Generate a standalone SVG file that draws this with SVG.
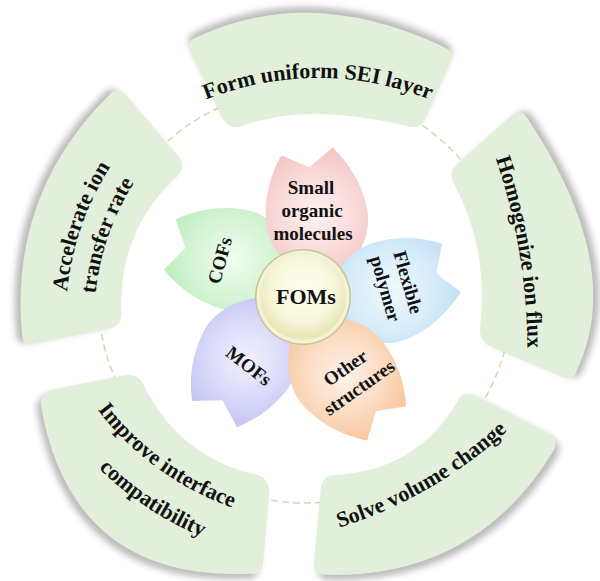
<svg xmlns="http://www.w3.org/2000/svg" xmlns:xlink="http://www.w3.org/1999/xlink" width="600" height="581" viewBox="0 0 600 581">
<defs>
<style>
.seg{fill:#e2efda}
.shd{fill:#858585;opacity:.55;filter:url(#blur)}
.t{font-family:"Liberation Serif","Times New Roman",serif;font-weight:bold;fill:#111}
.o{font-size:22px}
.p{font-size:19px;text-anchor:middle}
</style>
<filter id="blur" x="-20%" y="-20%" width="140%" height="140%"><feGaussianBlur stdDeviation="3"/></filter>
<path id="pTop" d="M190.4,52.7 Q185,42 196,37.6 Q310,-16.3 444,47 Q455,52 450,63 L425,119 Q420,130 408.6,126.4 Q305.5,101.6 240.4,126.4 Q229,130 223.6,119.3 Z"/>
<path id="pRight" d="M457,164 L511,116 Q520,108 527,117.6 Q626,266.2 577,370 Q574,382 563,377.3 L491,346.7 Q480,342 480,330 Q489.3,247.6 453.4,182.7 Q448,172 457,164 Z"/>
<path id="pLeft" d="M126,95 L178,156 Q186,165 179,174.6 Q117.1,230.5 121.6,314 Q121,326 109.2,328.4 L33.8,343.6 Q22,346 22,334 Q9.45,193.75 109.5,94.5 Q118,86 126,95 Z"/>
<path id="pImprove" d="M51.8,389.7 L125.2,375.3 Q137,373 143,383.4 Q178.6,457.8 259,475.4 Q270,480 269,492 L263,563 Q262,575 250,573.8 Q70.7,581.1 40.6,404 Q40,392 51.8,389.7 Z"/>
<path id="pSolve" d="M475.7,395.5 L547.3,432.5 Q558,438 554.4,449.4 Q476.3,578.9 325,574.8 Q313,575 314,563 L321,488 Q322,476 334,475 Q416.8,471.3 458.4,400 Q465,390 475.7,395.5 Z"/>
<path id="aForm" d="M18,378 A300,300 0 0 1 618,378"/>
<path id="aHom" d="M-171.6,-240.8 A600,600 0 0 1 26.4,942.8"/>
<path id="aAcc1" d="M254.2,582.8 A280,280 0 0 1 437.4,53.6"/>
<path id="aAcc2" d="M262.2,559.6 A255.5,255.5 0 0 1 429.4,76.8"/>
<path id="aImp1" d="M90.4,64.9 A292,292 0 0 0 562.8,408.1"/>
<path id="aImp2" d="M55.6,57.1 A325,325 0 0 0 597.6,415.9"/>
<path id="aSolve" d="M-184.7,326.3 A450,450 0 0 0 594.7,-123.7"/>
<path id="petal" d="M0,-10 C-30,-25 -52,-50 -51,-80 C-50,-105 -40,-128 -26,-146 L0,-130 L26,-146 C40,-128 50,-105 51,-80 C52,-50 30,-25 0,-10 Z"/>
<radialGradient id="gPink" cx="0" cy="-82" r="78" gradientUnits="userSpaceOnUse"><stop offset="0" stop-color="#fdf1f1"/><stop offset="0.5" stop-color="#f9dada"/><stop offset="1" stop-color="#f3bdbd"/></radialGradient>
<radialGradient id="gBlue" cx="0" cy="-82" r="78" gradientUnits="userSpaceOnUse"><stop offset="0" stop-color="#f0f8fe"/><stop offset="0.5" stop-color="#d8edfa"/><stop offset="1" stop-color="#b9dcf3"/></radialGradient>
<radialGradient id="gOrange" cx="0" cy="-82" r="78" gradientUnits="userSpaceOnUse"><stop offset="0" stop-color="#fdf2ea"/><stop offset="0.5" stop-color="#fbdcc2"/><stop offset="1" stop-color="#f6bf8f"/></radialGradient>
<radialGradient id="gLav" cx="0" cy="-82" r="78" gradientUnits="userSpaceOnUse"><stop offset="0" stop-color="#f1f1fe"/><stop offset="0.5" stop-color="#dadafa"/><stop offset="1" stop-color="#bcbcf3"/></radialGradient>
<radialGradient id="gGreen" cx="0" cy="-82" r="78" gradientUnits="userSpaceOnUse"><stop offset="0" stop-color="#f1fdf1"/><stop offset="0.5" stop-color="#d6f4d6"/><stop offset="1" stop-color="#b5ebb5"/></radialGradient>
<radialGradient id="gCore" cx="303" cy="290" r="46" gradientUnits="userSpaceOnUse"><stop offset="0" stop-color="#fffff4"/><stop offset="0.7" stop-color="#f7f6da"/><stop offset="1" stop-color="#e9e7b8"/></radialGradient>
</defs>
<rect width="600" height="581" fill="#ffffff"/>
<g id="connectors">
<circle cx="305" cy="296" r="207" fill="none" stroke="#c6e0b4" stroke-width="1.6" stroke-dasharray="7 4"/>
</g>
<g id="seg-form">
<use href="#pTop" class="shd" transform="translate(0,-6)"/>
<use href="#pTop" class="seg"/>
<text class="t o"><textPath href="#aForm" startOffset="50%" text-anchor="middle">Form uniform SEI layer</textPath></text>
</g>
<g id="seg-homogenize">
<use href="#pRight" class="shd" transform="translate(6,-1)"/>
<use href="#pRight" class="seg"/>
<text class="t o"><textPath href="#aHom" startOffset="50%" text-anchor="middle">Homogenize ion flux</textPath></text>
</g>
<g id="seg-solve">
<use href="#pSolve" class="shd" transform="translate(4,5)"/>
<use href="#pSolve" class="seg"/>
<text class="t o"><textPath href="#aSolve" startOffset="50%" text-anchor="middle">Solve volume change</textPath></text>
</g>
<g id="seg-improve">
<use href="#pImprove" class="shd" transform="translate(-4,5)"/>
<use href="#pImprove" class="seg"/>
<text class="t o"><textPath href="#aImp1" startOffset="50%" text-anchor="middle">Improve interface</textPath></text>
<text class="t o"><textPath href="#aImp2" startOffset="50%" text-anchor="middle">compatibility</textPath></text>
</g>
<g id="seg-accelerate">
<use href="#pLeft" class="shd" transform="translate(-6,-1)"/>
<use href="#pLeft" class="seg"/>
<text class="t o"><textPath href="#aAcc1" startOffset="50%" text-anchor="middle">Accelerate ion</textPath></text>
<text class="t o"><textPath href="#aAcc2" startOffset="50%" text-anchor="middle">transfer rate</textPath></text>
</g>
<g id="petal-cofs">
<g transform="translate(307,299) rotate(283.1) translate(22,0)"><use href="#petal" fill="url(#gGreen)"/></g>
<text class="t p" transform="translate(226,262) rotate(-75)">COFs</text>
</g>
<g id="petal-mofs">
<g transform="translate(307,299) rotate(210.2) translate(22,0)"><use href="#petal" fill="url(#gLav)"/></g>
<text class="t p" transform="translate(245,371) rotate(38)">MOFs</text>
</g>
<g id="petal-small">
<g transform="translate(307,299) rotate(-8.6) translate(22,0)"><use href="#petal" fill="url(#gPink)"/></g>
<text class="t p"><tspan x="311" y="194">Small</tspan><tspan x="312" y="217">organic</tspan><tspan x="313" y="240">molecules</tspan></text>
</g>
<g id="petal-flexible">
<g transform="translate(307,299) rotate(69.2) translate(22,0)"><use href="#petal" fill="url(#gBlue)"/></g>
<text class="t p" transform="translate(402,284) rotate(74)"><tspan x="0" y="0">Flexible</tspan><tspan x="0" y="23.5">polymer</tspan></text>
</g>
<g id="petal-other">
<g transform="translate(307,299) rotate(138.8) translate(22,0)"><use href="#petal" fill="url(#gOrange)"/></g>
<text class="t p" transform="translate(349,373) rotate(-35)"><tspan x="0" y="0">Other</tspan><tspan x="0" y="24">structures</tspan></text>
</g>
<g id="center-foms">
<circle cx="303" cy="297" r="48" fill="#c9c38f"/>
<circle cx="303" cy="297" r="46.5" fill="#f4f2d6"/>
<circle cx="303" cy="297" r="43" fill="url(#gCore)"/>
<text class="t" x="306" y="304" font-size="22" text-anchor="middle">FOMs</text>
</g>
</svg>
